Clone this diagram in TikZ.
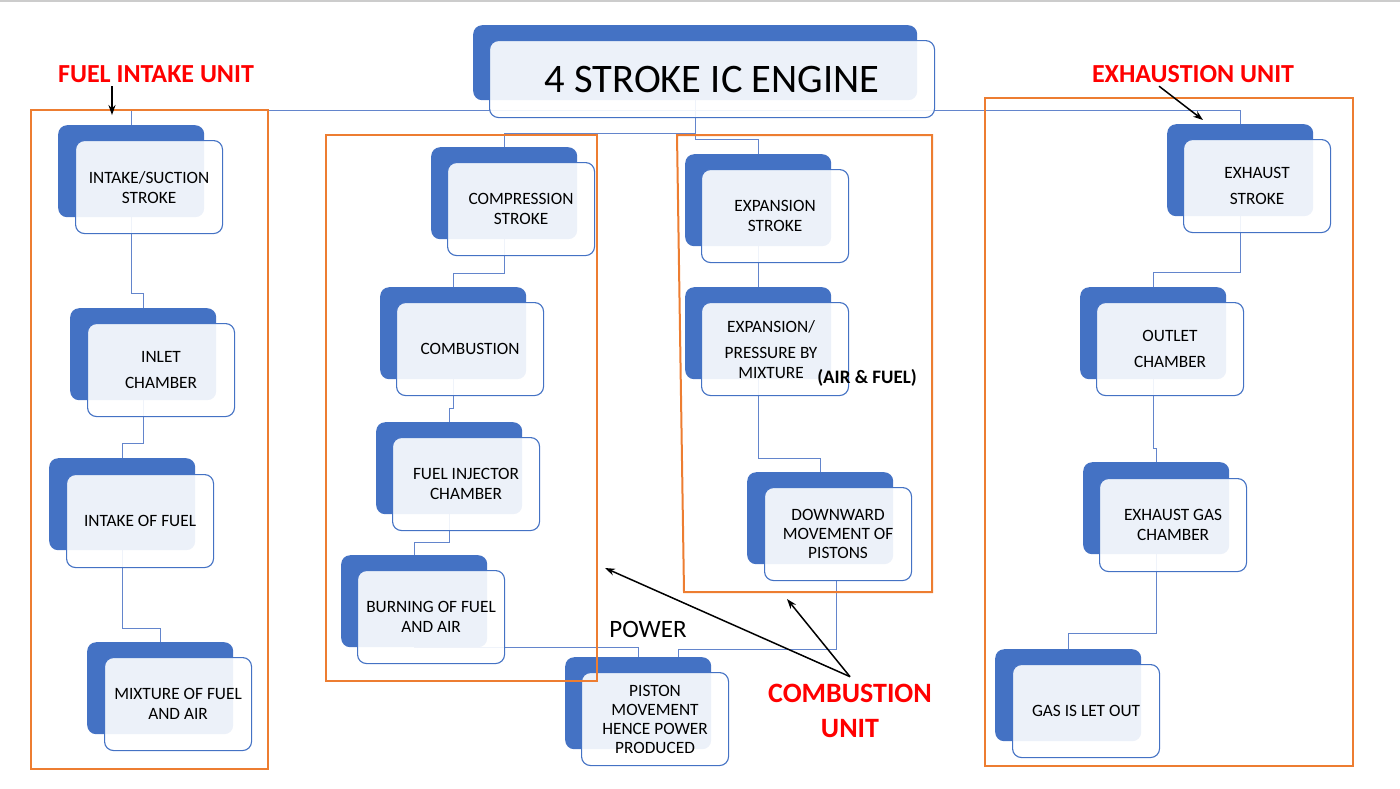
\documentclass[tikz,border=0pt]{standalone}
\usepackage{fontspec}
\setmainfont{Carlito}
\usetikzlibrary{arrows.meta}
\definecolor{sablue}{HTML}{4472C4}
\definecolor{lnblue}{HTML}{6385CC}
\definecolor{orng}{HTML}{ED7D31}
\pgfdeclarelayer{bg}
\pgfsetlayers{bg,main}
\begin{document}
\begin{tikzpicture}[x=1pt,y=-1pt,
  backbox/.style={draw=none, fill=sablue, rounded corners=9pt, minimum width=146pt, minimum height=92pt, anchor=north west, inner sep=0pt},
  frontbox/.style={draw=sablue, line width=1.1pt, fill=white, fill opacity=0.9, text opacity=1, rounded corners=9pt, minimum width=147pt, minimum height=93pt, anchor=north west, inner sep=0pt, align=center, font=\fontsize{17.3}{20}\selectfont},
  conn/.style={draw=lnblue, line width=1pt},
  unitbox/.style={draw=orng, line width=2pt},
  callout/.style={-{Stealth[length=10pt,width=7pt]}, line width=1.5pt, black},
  unitlabel/.style={text=red, font=\fontsize{26}{30}\selectfont\bfseries}
]
\useasboundingbox (0,0) rectangle (1400,788);
\draw[gray!40, line width=1.5pt] (0,1) -- (1400,1);

% title
\node[backbox, minimum width=444pt, minimum height=75pt] (tb) at (473,25) {};
\node[frontbox, minimum width=445pt, minimum height=77pt, font=\fontsize{40.5}{48}\selectfont] (t) at (489,40) {4 STROKE IC ENGINE};

% fuel intake unit
\node[backbox] (ib) at (58,125) {};
\node[frontbox] (i) at (75,140) {INTAKE/SUCTION\\STROKE};
\node[backbox] (nb) at (70,308) {};
\node[frontbox] (n) at (87,323) {INLET\\[6pt]CHAMBER};
\node[backbox] (fb) at (49,458) {};
\node[frontbox] (f) at (66,474) {INTAKE OF FUEL};
\node[backbox] (mb) at (87,642) {};
\node[frontbox] (m) at (104,657) {MIXTURE OF FUEL\\AND AIR};

% combustion unit
\node[backbox] (cb) at (431,147) {};
\node[frontbox] (c) at (447,162) {COMPRESSION\\STROKE};
\node[backbox] (ob) at (380,287) {};
\node[frontbox] (o) at (396,302) {COMBUSTION};
\node[backbox] (jb) at (376,422) {};
\node[frontbox] (j) at (392,437) {FUEL INJECTOR\\CHAMBER};
\node[backbox] (bb) at (341,555) {};
\node[frontbox] (b) at (357,570) {BURNING OF FUEL\\AND AIR};
\node[backbox] (pb) at (565,657) {};
\node[frontbox, font=\fontsize{17.3}{19}\selectfont] (p) at (581,672) {PISTON\\MOVEMENT\\HENCE POWER\\PRODUCED};
\node[backbox] (eb) at (685,154) {};
\node[frontbox] (e) at (701,169) {EXPANSION\\STROKE};
\node[backbox] (sb) at (685,287) {};
\node[frontbox] (s) at (701,302) {\hspace*{-8pt}EXPANSION/\\[6pt]\hspace*{-8pt}PRESSURE BY\\\hspace*{-8pt}MIXTURE};
\node[backbox] (db) at (747,472) {};
\node[frontbox, font=\fontsize{17.3}{19}\selectfont] (d) at (764,487) {DOWNWARD\\MOVEMENT OF\\PISTONS};

% exhaustion unit
\node[backbox] (xb) at (1167,124) {};
\node[frontbox] (xs) at (1183,139) {EXHAUST\\[6pt]STROKE};
\node[backbox] (ub) at (1080,287) {};
\node[frontbox] (u) at (1096,302) {OUTLET\\[6pt]CHAMBER};
\node[backbox] (gb) at (1083,462) {};
\node[frontbox] (g) at (1099,478) {EXHAUST GAS\\CHAMBER};
\node[backbox] (lb) at (995,649) {};
\node[frontbox] (l) at (1012,664) {GAS IS LET OUT};

% connectors (behind boxes)
\begin{pgfonlayer}{bg}
\draw[conn] (ib.north) -- ++(0,-15) -| (xb.north);
\draw[conn] (tb.south) -- ++(0,33) -| (cb.north);
\draw[conn] (tb.south) -- ++(0,39) -| (eb.north);
\draw[conn] (ib.south) -- ++(0,76) -| (nb.north);
\draw[conn] (nb.south) -- ++(0,43) -| (fb.north);
\draw[conn] (fb.south) -- ++(0,78) -| (mb.north);
\draw[conn] (cb.south) -- ++(0,34) -| (ob.north);
\draw[conn] (ob.south) -- ++(0,29) -| (jb.north);
\draw[conn] (jb.south) -- ++(0,28) -| (bb.north);
\draw[conn] (bb.south) -| (pb.north);
\draw[conn] (eb.south) -- ++(0,29) -| (sb.north);
\draw[conn] (sb.south) -- ++(0,79) -| (db.north);
\draw[conn] ([xshift=-2pt]d.south) -- ++(0,68) -| ([xshift=40pt]pb.north);
\draw[conn] (xb.south) -- ++(0,56) -| (ub.north);
\draw[conn] (ub.south) -- ++(0,69) -| (gb.north);
\draw[conn] (gb.south) -- ++(0,79) -| (lb.north);
\end{pgfonlayer}

% unit frames
\draw[unitbox] (31,110) rectangle (268,769);
\draw[unitbox] (326,135) rectangle (597,681);
\draw[unitbox] (677,135) -- (932,135) -- (932,592) -- (684,592) -- cycle;
\draw[unitbox] (985,98) rectangle (1353,766);

% labels
\node[unitlabel] (fil) at (156,74) {FUEL INTAKE UNIT};
\node[unitlabel] (exl) at (1193,74) {EXHAUSTION UNIT};
\node[unitlabel, align=center, font=\fontsize{28}{35}\selectfont\bfseries] (cul) at (850,711) {COMBUSTION\\UNIT};
\node[font=\fontsize{25}{30}\selectfont] (pow) at (648,629) {POWER};
\node[font=\fontsize{19}{23}\selectfont\bfseries] (af) at (867,378) {(AIR \& FUEL)};

% callout arrows
\coordinate (exa) at (1203,120);
\coordinate (ca1) at (605,568);
\coordinate (ca2) at (787,599);
\draw[callout] ([xshift=-44pt]fil.south) -- ++(0,29);
\draw[callout] ([xshift=-34pt]exl.south) -- (exa);
\draw[callout] ([yshift=4pt]cul.north) -- (ca1);
\draw[callout] ([yshift=4pt]cul.north) -- (ca2);
\end{tikzpicture}
\end{document}
